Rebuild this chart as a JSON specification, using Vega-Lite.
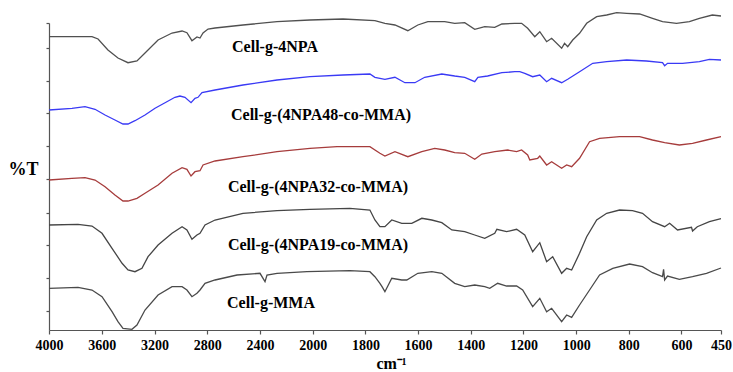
{
  "$schema": "https://vega.github.io/schema/vega-lite/v6.json",
  "width": 672,
  "height": 307,
  "autosize": {"type": "none"},
  "padding": {"left": 49, "top": 23, "right": 12, "bottom": 42},
  "background": "white",
  "config": {"view": {"stroke": null}},
  "datasets": {
    "spectra": [
      {"s":"a","x":4000,"y":293.3},{"s":"a","x":3674,"y":293.3},{"s":"a","x":3628,"y":291},{"s":"a","x":3553,"y":280},{"s":"a","x":3477,"y":272},{"s":"a","x":3401,"y":267.3},{"s":"a","x":3333,"y":269},{"s":"a","x":3272,"y":277},{"s":"a","x":3173,"y":290},{"s":"a","x":3067,"y":297},{"s":"a","x":2991,"y":299},{"s":"a","x":2954,"y":297.3},{"s":"a","x":2916,"y":289.3},{"s":"a","x":2878,"y":293},{"s":"a","x":2855,"y":292},{"s":"a","x":2832,"y":297},{"s":"a","x":2794,"y":301},{"s":"a","x":2741,"y":302},{"s":"a","x":2529,"y":305},{"s":"a","x":2271,"y":308.3},{"s":"a","x":2021,"y":310},{"s":"a","x":1885,"y":311},{"s":"a","x":1764,"y":309.3},{"s":"a","x":1726,"y":306.7},{"s":"a","x":1688,"y":305},{"s":"a","x":1639,"y":299.3},{"s":"a","x":1601,"y":305},{"s":"a","x":1563,"y":308.3},{"s":"a","x":1499,"y":308.3},{"s":"a","x":1461,"y":306.7},{"s":"a","x":1423,"y":307.3},{"s":"a","x":1385,"y":300.7},{"s":"a","x":1347,"y":303.3},{"s":"a","x":1309,"y":302.7},{"s":"a","x":1282,"y":306},{"s":"a","x":1233,"y":306.7},{"s":"a","x":1207,"y":306.7},{"s":"a","x":1184,"y":301.7},{"s":"a","x":1157,"y":293.3},{"s":"a","x":1138,"y":298.3},{"s":"a","x":1112,"y":288.3},{"s":"a","x":1093,"y":291.7},{"s":"a","x":1055,"y":281.7},{"s":"a","x":1044,"y":286.7},{"s":"a","x":1032,"y":283.3},{"s":"a","x":1013,"y":290},{"s":"a","x":987,"y":296.7},{"s":"a","x":960,"y":306.7},{"s":"a","x":922,"y":313.3},{"s":"a","x":884,"y":315},{"s":"a","x":846,"y":317.3},{"s":"a","x":808,"y":316.7},{"s":"a","x":759,"y":316},{"s":"a","x":710,"y":311.7},{"s":"a","x":672,"y":308.3},{"s":"a","x":619,"y":306.7},{"s":"a","x":570,"y":308.3},{"s":"a","x":532,"y":311.7},{"s":"a","x":483,"y":315},{"s":"a","x":450,"y":314},
      {"s":"b","x":4000,"y":220},{"s":"b","x":3826,"y":221.7},{"s":"b","x":3727,"y":223.3},{"s":"b","x":3651,"y":220.7},{"s":"b","x":3575,"y":215},{"s":"b","x":3500,"y":210},{"s":"b","x":3439,"y":206},{"s":"b","x":3401,"y":206},{"s":"b","x":3348,"y":209.3},{"s":"b","x":3272,"y":215},{"s":"b","x":3196,"y":221.7},{"s":"b","x":3120,"y":227.3},{"s":"b","x":3045,"y":232.7},{"s":"b","x":3007,"y":234},{"s":"b","x":2969,"y":232.7},{"s":"b","x":2923,"y":227.3},{"s":"b","x":2893,"y":231.7},{"s":"b","x":2870,"y":232.7},{"s":"b","x":2840,"y":237.3},{"s":"b","x":2741,"y":240},{"s":"b","x":2529,"y":245},{"s":"b","x":2271,"y":250},{"s":"b","x":2021,"y":253.3},{"s":"b","x":1885,"y":255},{"s":"b","x":1783,"y":256},{"s":"b","x":1764,"y":252.7},{"s":"b","x":1726,"y":250.7},{"s":"b","x":1688,"y":252.7},{"s":"b","x":1650,"y":247.3},{"s":"b","x":1612,"y":247.3},{"s":"b","x":1575,"y":252.7},{"s":"b","x":1510,"y":256},{"s":"b","x":1461,"y":254},{"s":"b","x":1423,"y":252.7},{"s":"b","x":1385,"y":248.3},{"s":"b","x":1373,"y":252.7},{"s":"b","x":1336,"y":254},{"s":"b","x":1282,"y":257.3},{"s":"b","x":1233,"y":258.3},{"s":"b","x":1214,"y":258.3},{"s":"b","x":1195,"y":256.7},{"s":"b","x":1165,"y":253.3},{"s":"b","x":1138,"y":255},{"s":"b","x":1112,"y":248.3},{"s":"b","x":1093,"y":251.7},{"s":"b","x":1055,"y":247.3},{"s":"b","x":1032,"y":250.7},{"s":"b","x":987,"y":258.3},{"s":"b","x":937,"y":266.7},{"s":"b","x":884,"y":268.3},{"s":"b","x":808,"y":270},{"s":"b","x":733,"y":269},{"s":"b","x":672,"y":267.3},{"s":"b","x":664,"y":264.3},{"s":"b","x":653,"y":266.7},{"s":"b","x":596,"y":266.7},{"s":"b","x":532,"y":268.3},{"s":"b","x":494,"y":270.7},{"s":"b","x":450,"y":270},
      {"s":"c","x":4000,"y":150},{"s":"c","x":3826,"y":151.7},{"s":"c","x":3727,"y":152.3},{"s":"c","x":3651,"y":150},{"s":"c","x":3575,"y":143.3},{"s":"c","x":3500,"y":135},{"s":"c","x":3439,"y":129},{"s":"c","x":3401,"y":129},{"s":"c","x":3333,"y":131.7},{"s":"c","x":3272,"y":136.7},{"s":"c","x":3173,"y":145},{"s":"c","x":3067,"y":156.7},{"s":"c","x":2991,"y":162.3},{"s":"c","x":2954,"y":160.7},{"s":"c","x":2923,"y":154},{"s":"c","x":2893,"y":158.3},{"s":"c","x":2855,"y":159.3},{"s":"c","x":2832,"y":165},{"s":"c","x":2741,"y":169},{"s":"c","x":2529,"y":173.3},{"s":"c","x":2271,"y":178.3},{"s":"c","x":2021,"y":181.7},{"s":"c","x":1908,"y":183.3},{"s":"c","x":1783,"y":183.3},{"s":"c","x":1745,"y":176.7},{"s":"c","x":1726,"y":174},{"s":"c","x":1688,"y":178.3},{"s":"c","x":1639,"y":173.3},{"s":"c","x":1586,"y":178.3},{"s":"c","x":1537,"y":181.7},{"s":"c","x":1499,"y":180},{"s":"c","x":1461,"y":177.3},{"s":"c","x":1423,"y":176.7},{"s":"c","x":1385,"y":170.7},{"s":"c","x":1358,"y":176},{"s":"c","x":1309,"y":178.3},{"s":"c","x":1260,"y":180},{"s":"c","x":1226,"y":178.3},{"s":"c","x":1207,"y":180},{"s":"c","x":1184,"y":175},{"s":"c","x":1176,"y":170},{"s":"c","x":1146,"y":171.7},{"s":"c","x":1138,"y":174},{"s":"c","x":1112,"y":165},{"s":"c","x":1093,"y":168.3},{"s":"c","x":1055,"y":161.7},{"s":"c","x":1036,"y":165},{"s":"c","x":1017,"y":163.3},{"s":"c","x":987,"y":171.7},{"s":"c","x":949,"y":188.3},{"s":"c","x":911,"y":191.7},{"s":"c","x":835,"y":193.3},{"s":"c","x":759,"y":193.3},{"s":"c","x":710,"y":190},{"s":"c","x":664,"y":187.3},{"s":"c","x":608,"y":185},{"s":"c","x":558,"y":186.7},{"s":"c","x":505,"y":190},{"s":"c","x":450,"y":193.3},
      {"s":"d","x":4000,"y":105},{"s":"d","x":3780,"y":105.7},{"s":"d","x":3674,"y":104},{"s":"d","x":3598,"y":96.7},{"s":"d","x":3522,"y":81.7},{"s":"d","x":3446,"y":66.7},{"s":"d","x":3401,"y":60},{"s":"d","x":3348,"y":58.3},{"s":"d","x":3295,"y":61.7},{"s":"d","x":3249,"y":73.3},{"s":"d","x":3173,"y":85},{"s":"d","x":3067,"y":96.7},{"s":"d","x":2991,"y":103.3},{"s":"d","x":2954,"y":100},{"s":"d","x":2916,"y":90.7},{"s":"d","x":2878,"y":95},{"s":"d","x":2855,"y":96.7},{"s":"d","x":2817,"y":105},{"s":"d","x":2741,"y":110},{"s":"d","x":2529,"y":116.7},{"s":"d","x":2271,"y":119.3},{"s":"d","x":2021,"y":120.7},{"s":"d","x":1859,"y":121.7},{"s":"d","x":1783,"y":120},{"s":"d","x":1764,"y":110},{"s":"d","x":1745,"y":103.3},{"s":"d","x":1726,"y":103.3},{"s":"d","x":1700,"y":110},{"s":"d","x":1662,"y":106.7},{"s":"d","x":1624,"y":106.7},{"s":"d","x":1586,"y":111.7},{"s":"d","x":1548,"y":110},{"s":"d","x":1510,"y":107.3},{"s":"d","x":1472,"y":100},{"s":"d","x":1423,"y":98.3},{"s":"d","x":1385,"y":95},{"s":"d","x":1347,"y":91.7},{"s":"d","x":1309,"y":96.7},{"s":"d","x":1301,"y":100.7},{"s":"d","x":1264,"y":98.3},{"s":"d","x":1226,"y":100.7},{"s":"d","x":1195,"y":95},{"s":"d","x":1165,"y":78.3},{"s":"d","x":1138,"y":87.3},{"s":"d","x":1112,"y":68.3},{"s":"d","x":1089,"y":73.3},{"s":"d","x":1055,"y":56.7},{"s":"d","x":1036,"y":61.7},{"s":"d","x":1017,"y":60},{"s":"d","x":987,"y":76.7},{"s":"d","x":960,"y":93.3},{"s":"d","x":922,"y":110},{"s":"d","x":884,"y":116.7},{"s":"d","x":835,"y":120},{"s":"d","x":786,"y":119.3},{"s":"d","x":748,"y":116.7},{"s":"d","x":710,"y":108.3},{"s":"d","x":664,"y":103.3},{"s":"d","x":645,"y":106.7},{"s":"d","x":615,"y":100},{"s":"d","x":562,"y":102.7},{"s":"d","x":558,"y":99},{"s":"d","x":540,"y":103.3},{"s":"d","x":494,"y":108.3},{"s":"d","x":450,"y":111.3},
      {"s":"e","x":4000,"y":41.7},{"s":"e","x":3780,"y":42.7},{"s":"e","x":3674,"y":40},{"s":"e","x":3598,"y":33.3},{"s":"e","x":3522,"y":18.3},{"s":"e","x":3477,"y":8.3},{"s":"e","x":3439,"y":1.7},{"s":"e","x":3371,"y":0.7},{"s":"e","x":3333,"y":5},{"s":"e","x":3272,"y":20},{"s":"e","x":3173,"y":35},{"s":"e","x":3067,"y":43.3},{"s":"e","x":2991,"y":43.3},{"s":"e","x":2954,"y":40},{"s":"e","x":2916,"y":33.3},{"s":"e","x":2878,"y":36.7},{"s":"e","x":2855,"y":40},{"s":"e","x":2817,"y":46.7},{"s":"e","x":2741,"y":50},{"s":"e","x":2574,"y":55},{"s":"e","x":2400,"y":56.7},{"s":"e","x":2362,"y":48.3},{"s":"e","x":2347,"y":55},{"s":"e","x":2271,"y":56.7},{"s":"e","x":2044,"y":58.3},{"s":"e","x":1859,"y":59.3},{"s":"e","x":1783,"y":58.3},{"s":"e","x":1764,"y":53.3},{"s":"e","x":1745,"y":46.7},{"s":"e","x":1737,"y":43.3},{"s":"e","x":1726,"y":38.3},{"s":"e","x":1700,"y":51.7},{"s":"e","x":1662,"y":50},{"s":"e","x":1643,"y":50},{"s":"e","x":1601,"y":56.7},{"s":"e","x":1548,"y":58.3},{"s":"e","x":1510,"y":56.7},{"s":"e","x":1461,"y":46.7},{"s":"e","x":1423,"y":43.3},{"s":"e","x":1385,"y":45},{"s":"e","x":1347,"y":43.3},{"s":"e","x":1328,"y":41.7},{"s":"e","x":1298,"y":46.7},{"s":"e","x":1264,"y":44},{"s":"e","x":1226,"y":44},{"s":"e","x":1203,"y":40},{"s":"e","x":1165,"y":23.3},{"s":"e","x":1138,"y":31.7},{"s":"e","x":1112,"y":18.3},{"s":"e","x":1093,"y":21.7},{"s":"e","x":1055,"y":8.3},{"s":"e","x":1036,"y":15},{"s":"e","x":1017,"y":12.7},{"s":"e","x":987,"y":25},{"s":"e","x":949,"y":40},{"s":"e","x":911,"y":55},{"s":"e","x":861,"y":61.7},{"s":"e","x":797,"y":66},{"s":"e","x":748,"y":63.3},{"s":"e","x":710,"y":57.3},{"s":"e","x":672,"y":53.3},{"s":"e","x":668,"y":60.7},{"s":"e","x":664,"y":50},{"s":"e","x":653,"y":54},{"s":"e","x":608,"y":50.7},{"s":"e","x":558,"y":53.3},{"s":"e","x":505,"y":56.7},{"s":"e","x":450,"y":62}
    ],
    "labels": [
      {"t":"Cell-g-4NPA","x":2612,"y":278.3},
      {"t":"Cell-g-(4NPA48-co-MMA)","x":2620,"y":210.5},
      {"t":"Cell-g-(4NPA32-co-MMA)","x":2643,"y":138.3},
      {"t":"Cell-g-(4NPA19-co-MMA)","x":2643,"y":80},
      {"t":"Cell-g-MMA","x":2650,"y":21.7}
    ]
  },
  "encoding": {
    "x": {
      "field": "x", "type": "quantitative",
      "scale": {"domain": [4000, 2000, 450], "range": [0, 263.75, 672], "nice": false, "zero": false},
      "axis": {
        "values": [4000,3600,3200,2800,2400,2000,1800,1600,1400,1200,1000,800,600,450],
        "grid": false, "format": "d",
        "domainColor": "#555555", "domainWidth": 1.2,
        "tickColor": "#555555", "tickSize": 4, "tickWidth": 1.2,
        "labelFont": "Liberation Serif", "labelFontWeight": "bold", "labelFontSize": 14, "labelColor": "black",
        "labelPadding": 4, "labelFlush": false, "labelOverlap": false,
        "title": "cm⁻¹", "titleFont": "Liberation Serif", "titleFontWeight": "bold", "titleFontSize": 16, "titleColor": "black",
        "titleX": 342, "titleY": 38, "titleBaseline": "alphabetic", "titleAlign": "center"
      }
    },
    "y": {
      "field": "y", "type": "quantitative",
      "scale": {"domain": [0, 307], "nice": false, "zero": false},
      "axis": {
        "values": [19,52,85,117,151,184,217,249,282,307],
        "labels": false, "grid": false,
        "domainColor": "#555555", "domainWidth": 1.2,
        "tickColor": "#555555", "tickSize": 3, "tickWidth": 1.2,
        "title": "%T", "titleAngle": 0, "titleFont": "Liberation Serif", "titleFontWeight": "bold", "titleFontSize": 18, "titleColor": "black",
        "titleX": -41, "titleY": 146, "titleAlign": "left", "titleBaseline": "middle"
      }
    }
  },
  "layer": [
    {
      "data": {"name": "spectra"},
      "mark": {"type": "line", "strokeWidth": 1.3, "interpolate": "linear"},
      "encoding": {
        "color": {
          "field": "s", "type": "nominal", "legend": null,
          "scale": {"domain": ["a","b","c","d","e"], "range": ["#505050","#3a3af5","#a63c3c","#454545","#4a4a4a"]}
        }
      }
    },
    {
      "data": {"name": "labels"},
      "mark": {"type": "text", "align": "left", "baseline": "alphabetic", "font": "Liberation Serif", "fontWeight": "bold", "fontSize": 16, "color": "black"},
      "encoding": {"text": {"field": "t"}}
    }
  ]
}
